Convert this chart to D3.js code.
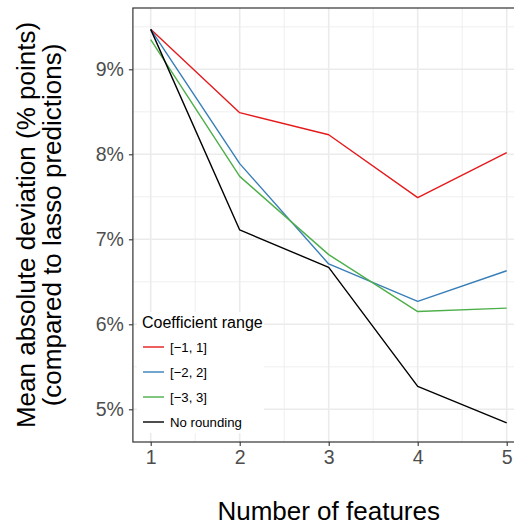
<!DOCTYPE html>
<html><head><meta charset="utf-8">
<script src="https://cdn.jsdelivr.net/npm/d3@7"></script>
<style>body{margin:0;background:#fff}svg{display:block}text{font-family:"Liberation Sans",Arial,Helvetica,sans-serif}</style>
</head><body><svg id="c" width="514" height="525"></svg>
<script>
const features = [1, 2, 3, 4, 5];
const seriesNames = ["[\u22121, 1]", "[\u22122, 2]", "[\u22123, 3]", "No rounding"];
const seriesColors = ["#E41A1C", "#377EB8", "#4DAF4A", "#000000"];
const range1 = [9.47, 8.49, 8.23, 7.49, 8.02];
const range2 = [9.47, 7.89, 6.71, 6.27, 6.63];
const range3 = [9.35, 7.74, 6.82, 6.15, 6.19];
const noRounding = [9.47, 7.11, 6.67, 5.27, 4.84];
const yTicks = [5, 6, 7, 8, 9];
const yMinor = [5.5, 6.5, 7.5, 8.5, 9.5];
const xMinor = [1.5, 2.5, 3.5, 4.5];
const seriesValues = [range1, range2, range3, noRounding];

const svg = d3.select("#c");
const x = d3.scaleLinear().domain([1, 5]).range([150.7, 506.7]);
const y = d3.scaleLinear().domain([5, 9]).range([409.3, 69.3]);
const pL = x(0.8), pR = x(5.2), pT = 8, pB = 442;

// grid
const g = svg.append("g");
g.selectAll(".ym").data(yMinor).join("line").attr("x1", pL).attr("x2", pR)
  .attr("y1", d => y(d)).attr("y2", d => y(d)).attr("stroke", "#EBEBEB").attr("stroke-width", 0.8);
g.selectAll(".xm").data(xMinor).join("line").attr("y1", pT).attr("y2", pB)
  .attr("x1", d => x(d)).attr("x2", d => x(d)).attr("stroke", "#EBEBEB").attr("stroke-width", 0.8);
g.selectAll(".yM").data(yTicks).join("line").attr("x1", pL).attr("x2", pR)
  .attr("y1", d => y(d)).attr("y2", d => y(d)).attr("stroke", "#EBEBEB").attr("stroke-width", 1.6);
g.selectAll(".xM").data(features).join("line").attr("y1", pT).attr("y2", pB)
  .attr("x1", d => x(d)).attr("x2", d => x(d)).attr("stroke", "#EBEBEB").attr("stroke-width", 1.6);

// lines
const line = d3.line().x((d, i) => x(features[i])).y(d => y(d));
seriesValues.forEach((vals, i) => {
  svg.append("path").attr("d", line(vals)).attr("fill", "none")
    .attr("stroke", seriesColors[i]).attr("stroke-width", 1.4).attr("stroke-linejoin", "round");
});

// legend
const lg = svg.append("g");
lg.append("rect").attr("x", 137).attr("y", 312).attr("width", 127).attr("height", 121).attr("fill", "#fff");
lg.append("text").attr("x", 142).attr("y", 327.5).attr("font-size", 16).attr("fill", "#000").text("Coefficient range");
seriesNames.forEach((n, i) => {
  const cy = 347 + i * 25;
  lg.append("line").attr("x1", 143).attr("x2", 164).attr("y1", cy).attr("y2", cy)
    .attr("stroke", seriesColors[i]).attr("stroke-width", 1.4);
  lg.append("text").attr("x", 170).attr("y", cy + 4.7).attr("font-size", 13.2).attr("fill", "#000").text(n);
});

// panel border
svg.append("rect").attr("x", pL).attr("y", pT).attr("width", pR - pL).attr("height", pB - pT)
  .attr("fill", "none").attr("stroke", "#333").attr("stroke-width", 1.2);

// axes
const yAxis = d3.axisLeft(y).tickValues(yTicks).tickSize(4).tickPadding(5).tickFormat(d => d + "%");
const ya = svg.append("g").attr("transform", `translate(${pL},0)`).call(yAxis);
ya.select(".domain").remove();
ya.selectAll("line").attr("stroke", "#333").attr("stroke-width", 1.1);
ya.selectAll("text").attr("font-size", 19.5).attr("fill", "#4D4D4D").attr("font-family", "Liberation Sans, Arial, sans-serif");

const xAxis = d3.axisBottom(x).tickValues(features).tickSize(4).tickPadding(4).tickFormat(d3.format("d"));
const xa = svg.append("g").attr("transform", `translate(0,${pB})`).call(xAxis);
xa.select(".domain").remove();
xa.selectAll("line").attr("stroke", "#333").attr("stroke-width", 1.1);
xa.selectAll("text").attr("font-size", 19.5).attr("fill", "#4D4D4D").attr("font-family", "Liberation Sans, Arial, sans-serif");

// titles
svg.append("text").attr("x", (pL + pR) / 2).attr("y", 520).attr("text-anchor", "middle")
  .attr("font-size", 26).attr("fill", "#000").text("Number of features");
const yt = svg.append("text").attr("transform", `translate(0,${(pT + pB) / 2}) rotate(-90)`)
  .attr("text-anchor", "middle").attr("font-size", 26).attr("fill", "#000");
yt.append("tspan").attr("x", 0).attr("y", 34.5).text("Mean absolute deviation (% points)");
yt.append("tspan").attr("x", 0).attr("y", 61).text("(compared to lasso predictions)");
</script></body></html>
